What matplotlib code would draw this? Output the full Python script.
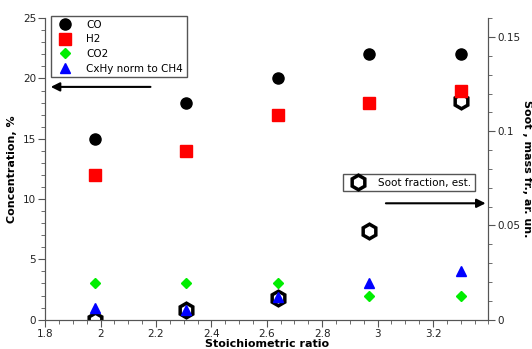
import matplotlib
matplotlib.use("Agg")
import matplotlib.pyplot as plt
from matplotlib.ticker import MultipleLocator

ratio = [1.98, 2.31, 2.64, 2.97, 3.30]
co = [15, 18, 20, 22, 22]
h2 = [12, 14, 17, 18, 19]
co2 = [3, 3, 3, 2, 2]
cxhy = [1.0, 0.8, 1.9, 3.0, 4.0]
soot = [0.0, 0.0052, 0.0114, 0.047, 0.116]

fig = plt.figure(figsize=(5.32, 3.49), dpi=100)
ax = fig.add_axes([0.085, 0.084, 0.833, 0.864])
ax2 = ax.twinx()

ax2.plot(ratio, soot, linestyle="none", marker="h", markersize=10.5,
         markerfacecolor="none", markeredgecolor="black", markeredgewidth=2.5,
         label="Soot fraction, est.")
ax.plot(ratio, co, "o", color="black", markersize=8, label="CO")
ax.plot(ratio, h2, "s", color="red", markersize=8, label="H2")
ax.plot(ratio, co2, "D", color="#00ee00", markersize=5, label="CO2")
ax.plot(ratio, cxhy, "^", color="blue", markersize=7.5, label="CxHy norm to CH4")
ax.set_zorder(ax2.get_zorder() + 1)
ax.patch.set_visible(False)

ax.set_xlim(1.8, 3.4)
ax.set_ylim(0, 25)
ax2.set_ylim(0, 0.16)
ax.xaxis.set_minor_locator(MultipleLocator(0.05))
ax.yaxis.set_major_locator(MultipleLocator(5))
ax.yaxis.set_minor_locator(MultipleLocator(1))
ax2.yaxis.set_minor_locator(MultipleLocator(0.01))
ax.set_xticks([1.8, 2.0, 2.2, 2.4, 2.6, 2.8, 3.0, 3.2])
ax.set_xticklabels(["1.8", "2", "2.2", "2.4", "2.6", "2.8", "3", "3.2"])
ax2.set_yticks([0, 0.05, 0.1, 0.15])
ax2.set_yticklabels(["0", "0.05", "0.1", "0.15"])

for a in (ax, ax2):
    for s in a.spines.values():
        s.set_color("#555555")
    a.spines["top"].set_visible(False)
    a.tick_params(which="both", direction="out", colors="#555555",
                  labelcolor="#222222", labelsize=7.5)
    a.tick_params(which="major", length=5, pad=1.5)
    a.tick_params(which="minor", length=3)

ax.set_xlabel("Stoichiometric ratio", fontweight="bold", fontsize=8, labelpad=0)
ax.set_ylabel("Concentration, %", fontweight="bold", fontsize=8, labelpad=4)
ax2.set_ylabel("Soot , mass fr., ar. un.", fontweight="bold", fontsize=8,
               rotation=270, labelpad=8)

leg1 = ax.legend(loc="upper left", bbox_to_anchor=(0.014, 1.007), fontsize=7.5,
                 fancybox=False, edgecolor="#555555", framealpha=1,
                 borderpad=0.35, labelspacing=0.45, handletextpad=1.0,
                 borderaxespad=0)
leg2 = ax2.legend(loc="upper left", bbox_to_anchor=(0.673, 0.483), fontsize=7.5,
                  fancybox=False, edgecolor="#555555", framealpha=1,
                  borderpad=0.35, handletextpad=1.0, borderaxespad=0)

ax.annotate("", xy=(1.81, 19.3), xytext=(2.19, 19.3),
            arrowprops=dict(arrowstyle="-|>", color="black", lw=1.5,
                            mutation_scale=13))
ax.annotate("", xy=(3.4, 9.65), xytext=(3.02, 9.65),
            arrowprops=dict(arrowstyle="-|>", color="black", lw=1.5,
                            mutation_scale=13), annotation_clip=False)

fig.savefig("out.png", dpi=100)
